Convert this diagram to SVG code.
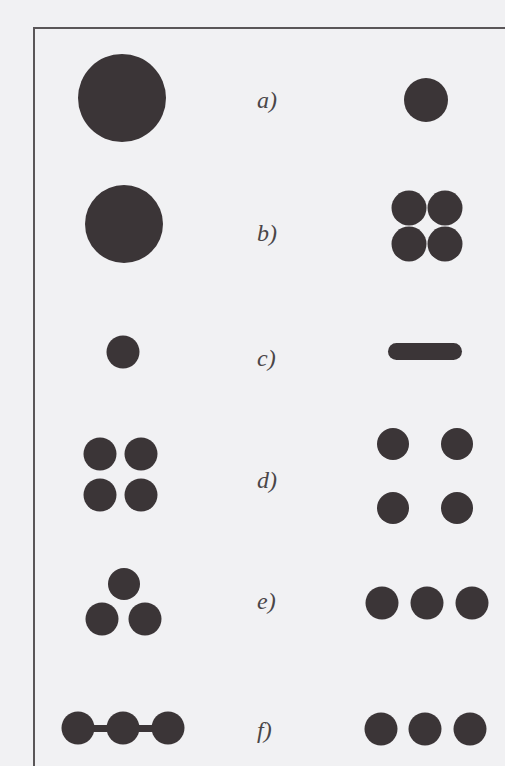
<svg xmlns="http://www.w3.org/2000/svg" width="505" height="766" viewBox="0 0 505 766">
<style>
.d{fill:#3b3537}
.lbl{font-family:"Liberation Serif",serif;font-style:italic;font-size:24px;fill:#4a4648}
.frame{stroke:#5a5658;stroke-width:2;fill:none}
</style>
<rect width="505" height="766" fill="#f1f1f3"/>
<path class="frame" d="M34,766 V28 H505"/>
<g id="row-a">
<circle class="d" cx="122" cy="98" r="44"/>
<text class="lbl" x="257" y="108">a)</text>
<circle class="d" cx="426" cy="100" r="22"/>
</g>
<g id="row-b">
<circle class="d" cx="124" cy="224" r="39"/>
<text class="lbl" x="257" y="241">b)</text>
<circle class="d" cx="409" cy="208" r="17.5"/>
<circle class="d" cx="445" cy="208" r="17.5"/>
<circle class="d" cx="409" cy="244" r="17.5"/>
<circle class="d" cx="445" cy="244" r="17.5"/>
</g>
<g id="row-c">
<circle class="d" cx="123" cy="352" r="16.5"/>
<text class="lbl" x="257" y="366">c)</text>
<rect class="d" x="388" y="343" width="74" height="17" rx="8.5"/>
</g>
<g id="row-d">
<circle class="d" cx="100" cy="454" r="16.5"/>
<circle class="d" cx="141" cy="454" r="16.5"/>
<circle class="d" cx="100" cy="495" r="16.5"/>
<circle class="d" cx="141" cy="495" r="16.5"/>
<text class="lbl" x="257" y="488">d)</text>
<circle class="d" cx="393" cy="444" r="16"/>
<circle class="d" cx="457" cy="444" r="16"/>
<circle class="d" cx="393" cy="508" r="16"/>
<circle class="d" cx="457" cy="508" r="16"/>
</g>
<g id="row-e">
<circle class="d" cx="124" cy="584" r="16"/>
<circle class="d" cx="102" cy="619" r="16.5"/>
<circle class="d" cx="145" cy="619" r="16.5"/>
<text class="lbl" x="257" y="609">e)</text>
<circle class="d" cx="382" cy="603" r="16.5"/>
<circle class="d" cx="427" cy="603" r="16.5"/>
<circle class="d" cx="472" cy="603" r="16.5"/>
</g>
<g id="row-f">
<rect class="d" x="78" y="725" width="90" height="7"/>
<circle class="d" cx="78" cy="728" r="16.5"/>
<circle class="d" cx="123" cy="728" r="16.5"/>
<circle class="d" cx="168" cy="728" r="16.5"/>
<text class="lbl" x="257" y="738">f)</text>
<circle class="d" cx="381" cy="729" r="16.5"/>
<circle class="d" cx="425" cy="729" r="16.5"/>
<circle class="d" cx="470" cy="729" r="16.5"/>
</g>
</svg>
